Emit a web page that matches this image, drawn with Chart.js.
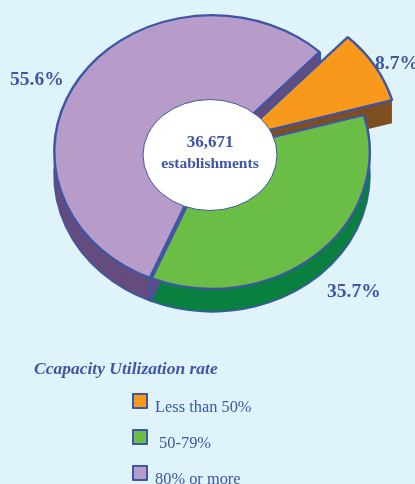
<!DOCTYPE html>
<html>
<head>
<meta charset="utf-8">
<script src="https://cdn.jsdelivr.net/npm/chart.js@4"></script>
<style>
  html, body { margin: 0; padding: 0; background: #dff3fb; }
  #wrap { position: relative; width: 415px; height: 484px; overflow: hidden; font-family: "Liberation Serif", serif; color: #3f55a5; }
  #legendTitle { position: absolute; left: 34px; top: 358px; font: italic bold 17.5px "Liberation Serif", serif; white-space: nowrap; }
  .item { position: absolute; left: 132px; height: 17px; white-space: pre; font-size: 16.4px; line-height: 17px; }
  .item i { position: absolute; left: 0; top: 0; width: 12px; height: 12px; border: 2px solid #3f55a5; border-radius: 1px; }
  .item span { position: absolute; left: 23px; top: 5px; }
</style>
</head>
<body>
<div id="wrap">
  <canvas id="myChart" width="415" height="484"></canvas>
  <div id="legendTitle"></div>
</div>
<script>
const categories = ["Less than 50%", " 50-79%", "80% or more"];
const shares = [8.7, 35.7, 55.6];
const shareLabels = ["8.7%", "35.7%", "55.6%"];
const topColors = ["#f9991c", "#6abd45", "#b79bc9"];
const sideColors = ["#7f4f21", "#0a8040", "#654c7f"];
const sliceOffsets = [33, 0, 0];
const centerLines = ["36,671", "establishments"];
const legendTitle = "Ccapacity Utilization rate";

const edgeColor = "#3f55a5";
const squash = 0.867;
const depth = 23;
const pieCenter = { x: 212, y: 152 };
const labelSpots = [[375, 69], [327, 297], [10, 85]];

// tilt the flat pie, chart.js only knows circles
function tilt(ctx, chart, down) {
  const cx = (chart.chartArea.left + chart.chartArea.right) / 2;
  const cy = (chart.chartArea.top + chart.chartArea.bottom) / 2;
  ctx.translate(pieCenter.x, pieCenter.y + down);
  ctx.scale(1, squash);
  ctx.translate(-cx, -cy);
}

function slicePath(ctx, p) {
  ctx.beginPath();
  ctx.moveTo(p.x, p.y);
  ctx.arc(p.x, p.y, p.outerRadius, p.startAngle, p.endAngle);
  ctx.closePath();
}

const pie3d = {
  id: "pie3d",
  // move the pulled out slice here, the offset option also grows its radius
  afterDatasetsUpdate(chart) {
    chart.getDatasetMeta(0).data.forEach((arc, i) => {
      const mid = (arc.startAngle + arc.endAngle) / 2;
      arc.x += Math.cos(mid) * sliceOffsets[i];
      arc.y += Math.sin(mid) * sliceOffsets[i];
    });
  },
  beforeDatasetsDraw(chart) {
    const ctx = chart.ctx;
    const arcs = chart.getDatasetMeta(0).data;
    arcs.forEach((arc, i) => {
      const p = arc.getProps(["x", "y", "startAngle", "endAngle", "outerRadius"]);
      for (let d = depth; d > 0; d--) {
        ctx.save();
        tilt(ctx, chart, d);
        slicePath(ctx, p);
        ctx.fillStyle = sideColors[i];
        ctx.fill();
        if (d === depth && i > 0) {
          ctx.strokeStyle = edgeColor;
          ctx.lineWidth = 2;
          ctx.stroke();
        }
        ctx.restore();
      }
      // upright edges at the cut faces
      if (i > 0) {
        ctx.save();
        ctx.strokeStyle = edgeColor;
        ctx.lineWidth = 3;
        [p.startAngle, p.endAngle].forEach(a => {
          const ex = p.x + Math.cos(a) * p.outerRadius;
          const ey = p.y + Math.sin(a) * p.outerRadius;
          ctx.save();
          tilt(ctx, chart, 0);
          const m = ctx.getTransform().transformPoint(new DOMPoint(ex, ey));
          ctx.restore();
          ctx.beginPath();
          ctx.moveTo(m.x, m.y);
          ctx.lineTo(m.x, m.y + depth);
          ctx.stroke();
        });
        ctx.restore();
      }
    });
    ctx.save();
    tilt(ctx, chart, 0);
  },
  afterDatasetsDraw(chart) {
    const ctx = chart.ctx;
    // thick seam between the purple and green slices
    const seam = chart.getDatasetMeta(0).data[2].getProps(["x", "y", "startAngle", "outerRadius"]);
    ctx.beginPath();
    ctx.moveTo(seam.x, seam.y);
    ctx.lineTo(seam.x + Math.cos(seam.startAngle) * seam.outerRadius, seam.y + Math.sin(seam.startAngle) * seam.outerRadius);
    ctx.strokeStyle = edgeColor;
    ctx.lineWidth = 4.5;
    ctx.stroke();
    ctx.restore();

    ctx.save();
    ctx.beginPath();
    ctx.ellipse(210, 155, 67, 55.5, 0, 0, Math.PI * 2);
    ctx.fillStyle = "#ffffff";
    ctx.fill();
    ctx.strokeStyle = edgeColor;
    ctx.lineWidth = 1;
    ctx.stroke();

    ctx.fillStyle = edgeColor;
    ctx.textAlign = "center";
    ctx.font = 'bold 17px "Liberation Serif", serif';
    ctx.fillText(centerLines[0], 210, 147);
    ctx.font = 'bold 15.5px "Liberation Serif", serif';
    ctx.fillText(centerLines[1], 210, 168);

    ctx.textAlign = "left";
    ctx.font = 'bold 19.5px "Liberation Serif", serif';
    shareLabels.forEach((t, i) => ctx.fillText(t, labelSpots[i][0], labelSpots[i][1]));
    ctx.restore();
  }
};

new Chart(document.getElementById("myChart"), {
  type: "pie",
  data: {
    labels: categories,
    datasets: [{
      data: shares,
      backgroundColor: topColors,
      borderColor: edgeColor,
      borderWidth: 2.5,
      clip: false
    }]
  },
  options: {
    responsive: false,
    animation: false,
    rotation: 43,
    layout: { padding: { left: 53, right: 44, top: 0, bottom: 166 } },
    plugins: { legend: { display: false }, tooltip: { enabled: false } }
  },
  plugins: [pie3d]
});

document.getElementById("legendTitle").textContent = legendTitle;
const wrap = document.getElementById("wrap");
categories.forEach((name, i) => {
  const row = document.createElement("div");
  row.className = "item";
  row.style.top = (393 + i * 36) + "px";
  const box = document.createElement("i");
  box.style.background = topColors[i];
  const txt = document.createElement("span");
  txt.textContent = name;
  row.appendChild(box);
  row.appendChild(txt);
  wrap.appendChild(row);
});
</script>
</body>
</html>
